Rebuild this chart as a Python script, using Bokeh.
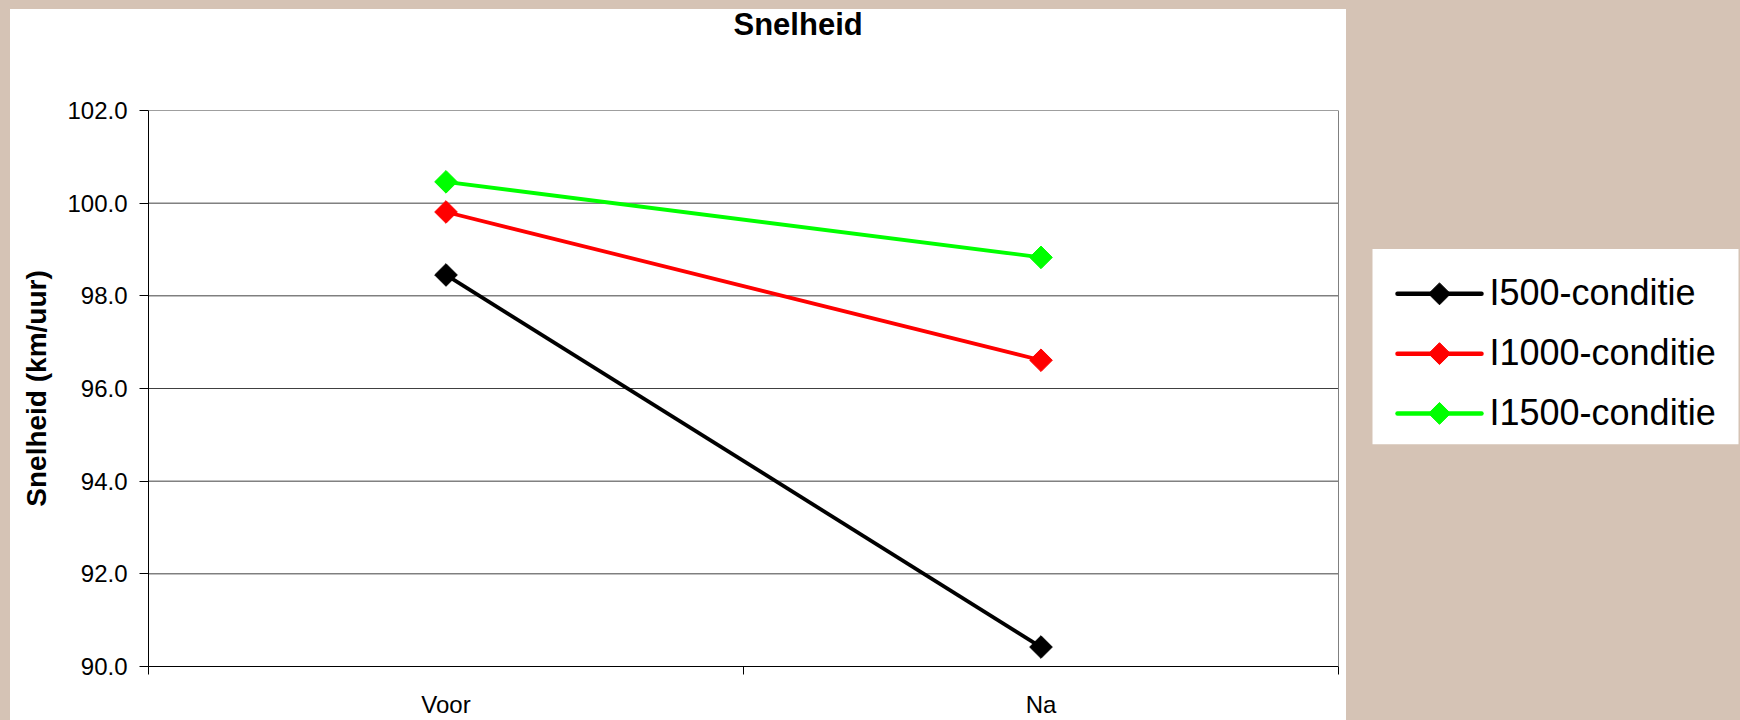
import math
from bokeh.plotting import figure
from bokeh.models import (Range1d, FixedTicker, NumeralTickFormatter, ColumnDataSource,
                          GlobalInlineStyleSheet, Title, Span)
from bokeh.core.properties import value
from bokeh.embed import file_html
from bokeh.resources import INLINE

# ---- data ----
categories = ["Voor", "Na"]
series_names = ["I500-conditie", "I1000-conditie", "I1500-conditie"]
i500 = [98.45, 90.42]
i1000 = [99.81, 96.61]
i1500 = [100.46, 98.83]
series_colors = ["#000000", "#FF0000", "#00FF00"]
y_ticks = [90, 92, 94, 96, 98, 100, 102]
title_text = "Snelheid"
y_label = "Snelheid (km/uur)"

# ---- layout / style (page pixels) ----
TAN = "#D5C3B5"
FONT = "Liberation Sans"
W, H = 1740, 720
FRAME_L, PLOT_R, FRAME_T, FRAME_B = 148, 1338, 110, 668   # plot area
LEG_L, LEG_R, LEG_T, LEG_B = 1372, 1738, 249, 445           # legend box
ROW0, ROW_STEP = 294, 60

n_cat = len(categories)
xs = [i + 0.5 for i in range(n_cat)]
x_end = n_cat * (W - FRAME_L) / (PLOT_R - FRAME_L)   # frame runs on under the legend

p = figure(width=W, height=H, output_backend="svg", toolbar_location=None, title=None,
           x_range=Range1d(0, x_end), y_range=Range1d(y_ticks[0], y_ticks[-1]),
           min_border_left=FRAME_L, min_border_right=0, min_border_top=FRAME_T,
           min_border_bottom=H - FRAME_B,
           border_fill_color=None, background_fill_color=None, outline_line_color=None)

p.styles = {"background": (f"linear-gradient(to bottom, {TAN} 9px, transparent 9px), "
                           f"linear-gradient(to right, {TAN} 10px, #ffffff 10px, #ffffff 1346px, {TAN} 1346px)")}
p.stylesheets = [GlobalInlineStyleSheet(
    css=f"html, body {{ margin: 0; padding: 0; overflow: hidden; background-color: {TAN}; }}")]

# pixel ranges for the legend
p.extra_x_ranges = {"px": Range1d(FRAME_L, W)}
p.extra_y_ranges = {"px": Range1d(FRAME_B, FRAME_T)}

# title (spacer nearest to the plot area, then the real title)
spacer = Title(text=" ", text_font=FONT, text_font_size="31px", standoff=32)
p.add_layout(spacer, "above")
main_title = Title(text=title_text, text_font=FONT, text_font_size="31px", text_font_style="bold",
                   text_color="black", align="left", offset=585, standoff=0)
p.add_layout(main_title, "above")

# y axis
p.yaxis.ticker = FixedTicker(ticks=y_ticks)
p.yaxis.formatter = NumeralTickFormatter(format="0.0")
p.yaxis.major_tick_out = 9
p.yaxis.major_tick_in = 0
p.yaxis.minor_tick_line_color = None
p.yaxis.major_label_standoff = 12
p.yaxis.major_label_text_font = FONT
p.yaxis.major_label_text_font_size = "24px"
p.yaxis.major_label_text_color = "black"
p.yaxis.axis_line_color = "black"
p.yaxis.major_tick_line_color = "black"
p.yaxis.axis_label = y_label
p.yaxis.axis_label_text_font = FONT
p.yaxis.axis_label_text_font_size = "28px"
p.yaxis.axis_label_text_font_style = "bold"
p.yaxis.axis_label_text_color = "black"
p.yaxis.axis_label_standoff = 12

# x axis
p.xaxis.bounds = (0, n_cat)
p.xaxis.ticker = FixedTicker(ticks=xs, minor_ticks=list(range(n_cat + 1)))
p.xaxis.major_label_overrides = {x: c for x, c in zip(xs, categories)}
p.xaxis.major_tick_out = 0
p.xaxis.major_tick_in = 0
p.xaxis.major_tick_line_color = None
p.xaxis.minor_tick_out = 8
p.xaxis.minor_tick_in = 0
p.xaxis.minor_tick_line_color = "black"
p.xaxis.major_label_standoff = 16
p.xaxis.major_label_text_font = FONT
p.xaxis.major_label_text_font_size = "24px"
p.xaxis.major_label_text_color = "black"
p.xaxis.axis_line_color = "black"

# gridlines only across the plot area (not under the legend)
p.xgrid.visible = False
p.ygrid.visible = False
grid_src = ColumnDataSource(dict(x0=[0] * len(y_ticks[1:]), x1=[n_cat] * len(y_ticks[1:]),
                                 y=y_ticks[1:]))
p.segment(x0="x0", y0="y", x1="x1", y1="y", source=grid_src, line_color="#404040",
          line_width=1, level="underlay")

# plot-area border on the right
p.add_layout(Span(location=n_cat, dimension="height", line_color="#808080", line_width=1))

# series
for name, vals, color in zip(series_names, [i500, i1000, i1500], series_colors):
    src = ColumnDataSource(dict(x=xs, y=vals))
    p.line("x", "y", source=src, line_color=color, line_width=3.8)
    p.scatter("x", "y", source=src, marker="square", size=16, angle=math.pi / 4,
              fill_color=color, line_color=color)

# legend (drawn with glyphs so the markers keep their diamond shape)
p.quad(left=[LEG_L], right=[LEG_R], top=[LEG_T], bottom=[LEG_B],
       x_range_name="px", y_range_name="px", fill_color="white", line_color=None)
rows = [ROW0 + ROW_STEP * i for i in range(len(series_names))]
leg = ColumnDataSource(dict(
    x0=[1397] * len(rows), x1=[1481] * len(rows), xm=[1439] * len(rows), xt=[1489] * len(rows),
    y=rows, yb=[r - 1 for r in rows], name=series_names, color=series_colors))
p.segment(x0="x0", y0="y", x1="x1", y1="y", source=leg, x_range_name="px", y_range_name="px",
          line_color="color", line_width=4.5, line_cap="round")
p.scatter(x="xm", y="y", source=leg, x_range_name="px", y_range_name="px", marker="square",
          size=15.5, angle=math.pi / 4, fill_color="color", line_color="color")
p.text(x="xt", y="yb", text="name", source=leg, x_range_name="px", y_range_name="px",
       text_font=value(FONT), text_font_size="36px", text_color="black",
       text_baseline="alphabetic", text_align="left")

open("out.html", "w").write(file_html(p, INLINE))
